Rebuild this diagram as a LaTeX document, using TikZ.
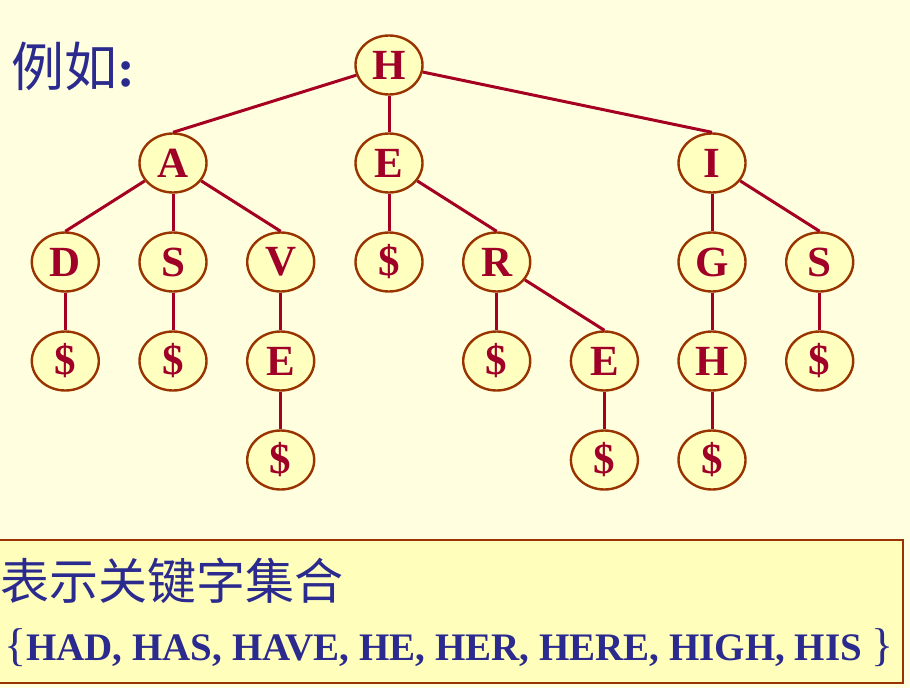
\documentclass[tikz,border=0pt]{standalone}
\usepackage{fontspec}
\setmainfont{Liberation Serif}
\newfontfamily\cjk{Noto Sans CJK SC}
\usetikzlibrary{shapes.geometric, positioning}
\definecolor{bgcol}{RGB}{255,255,224}
\definecolor{keyfill}{RGB}{255,255,192}
\definecolor{keyline}{RGB}{153,51,0}
\definecolor{keytext}{RGB}{160,0,40}
\definecolor{linkcol}{RGB}{165,0,33}
\definecolor{titlecol}{RGB}{43,42,142}
\definecolor{boxfill}{RGB}{255,255,187}
\tikzset{node distance=99pt and 107.7pt, % Row and column spacing of the tree
on grid,
letter/.style={ % Sets the properties for each trie node
ellipse, draw=keyline, line width=2.4pt, fill=keyfill,
minimum width=67pt, minimum height=59pt, inner sep=0pt,
text=keytext, font=\bfseries\fontsize{43}{43}\selectfont},
link/.style={ % Sets the properties for each branch
draw=linkcol, line width=3pt}}

\begin{document}
\begin{tikzpicture}[x=1pt,y=1pt]

    \fill[bgcol] (0,0) rectangle (910,-688);
    \useasboundingbox (0,0) rectangle (910,-688);

    \node[anchor=west, text=titlecol, font=\fontsize{53}{53}\selectfont] (title) at (8,-66) {{\cjk 例如}\textbf{:}};

    \node[letter] (h) at (389,-65) {H};
    \node[letter, below left=98pt and 216pt of h] (a) {A};
    \node[letter, below=98pt of h] (e) {E};
    \node[letter, below right=98pt and 323pt of h] (i) {I};

    \node[letter, below left=of a] (ad) {D};
    \node[letter, below=of a] (as) {S};
    \node[letter, below right=of a] (av) {V};
    \node[letter, below=of ad] (ad0) {\$};
    \node[letter, below=of as] (as0) {\$};
    \node[letter, below=of av] (ave) {E};
    \node[letter, below=of ave] (ave0) {\$};

    \node[letter, below=of e] (e0) {\$};
    \node[letter, below right=of e] (er) {R};
    \node[letter, below=of er] (er0) {\$};
    \node[letter, below right=of er] (ere) {E};
    \node[letter, below=of ere] (ere0) {\$};

    \node[letter, below=of i] (ig) {G};
    \node[letter, below right=of i] (is) {S};
    \node[letter, below=of ig] (igh) {H};
    \node[letter, below=of igh] (igh0) {\$};
    \node[letter, below=of is] (is0) {\$};

    \draw[link] (h) -- (a.north);
    \draw[link] (h) -- (e.north);
    \draw[link] (h) -- (i.north);
    \draw[link] (a) -- (ad.north);
    \draw[link] (a) -- (as.north);
    \draw[link] (a) -- (av.north);
    \draw[link] (ad) -- (ad0.north);
    \draw[link] (as) -- (as0.north);
    \draw[link] (av) -- (ave.north);
    \draw[link] (ave) -- (ave0.north);
    \draw[link] (e) -- (e0.north);
    \draw[link] (e) -- (er.north);
    \draw[link] (er) -- (er0.north);
    \draw[link] (er) -- (ere.north);
    \draw[link] (ere) -- (ere0.north);
    \draw[link] (i) -- (ig.north);
    \draw[link] (i) -- (is.north);
    \draw[link] (ig) -- (igh.north);
    \draw[link] (igh) -- (igh0.north);
    \draw[link] (is) -- (is0.north);

    % key set box
    \draw[draw=keyline, line width=2.5pt, fill=boxfill] (-2,-540) rectangle (903,-683);
    \node[anchor=west, text=titlecol, font=\cjk\fontsize{49}{49}\selectfont, inner sep=0pt] (caption) at (0,-581) {表示关键字集合};
    \node[anchor=west, text=titlecol, inner sep=0pt, font=\fontsize{39}{39}\selectfont] (keys) at (4,-648)
        {{\fontsize{46}{46}\selectfont\{}\textbf{HAD, HAS, HAVE, HE, HER, HERE, HIGH, HIS} {\fontsize{46}{46}\selectfont\}}};

\end{tikzpicture}
\end{document}
